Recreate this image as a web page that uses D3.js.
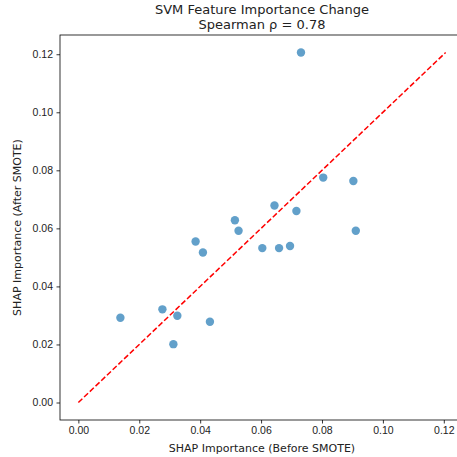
<!DOCTYPE html>
<html lang="en">
<head>
<meta charset="utf-8">
<title>SVM Feature Importance Change</title>
<script src="https://cdnjs.cloudflare.com/ajax/libs/d3/7.8.5/d3.min.js"></script>
<style>
  body { margin: 0; background: #fff; }
  svg { font-family: "DejaVu Sans", sans-serif; display: block; }
  .tick text { font-size: 10.5px; fill: #222; }
</style>
</head>
<body>
<div id="chart"></div>
<script>
// shap importance before / after SMOTE, one entry per feature
var before = [0.0731, 0.0804, 0.0903, 0.0644, 0.0716, 0.0911, 0.0514, 0.0526, 0.0385,
              0.0409, 0.0604, 0.0659, 0.0695, 0.0276, 0.0325, 0.0138, 0.0432, 0.0312];
var after  = [0.1206, 0.0775, 0.0763, 0.0679, 0.0660, 0.0592, 0.0628, 0.0592, 0.0555,
              0.0517, 0.0532, 0.0532, 0.0539, 0.0321, 0.0299, 0.0292, 0.0278, 0.0201];
var tickVals = [0.00, 0.02, 0.04, 0.06, 0.08, 0.10, 0.12];

var W = 457, H = 457;
// plot box (right edge runs past the window, like the reference)
var pLeft = 60, pTop = 35, pBottom = 420, pRight = 464;

var svg = d3.select("#chart").append("svg").attr("width", W).attr("height", H);

var maxVal = Math.max(d3.max(before), d3.max(after));
var pad = maxVal * 0.05;
var x = d3.scaleLinear().domain([0 - pad, maxVal + pad]).range([pLeft, pRight]);
var y = d3.scaleLinear().domain([0 - pad, maxVal + pad]).range([pBottom, pTop]);

// axes
svg.append("g").attr("transform", "translate(0," + pBottom + ")")
    .call(d3.axisBottom(x).tickValues(tickVals).tickFormat(d3.format(".2f")).tickSizeOuter(0).tickSize(3.5).tickPadding(3.5))
    .call(function(g) { g.select(".domain").remove(); });
svg.append("g").attr("transform", "translate(" + pLeft + ",0)")
    .call(d3.axisLeft(y).tickValues(tickVals).tickFormat(d3.format(".2f")).tickSizeOuter(0).tickSize(3.5).tickPadding(3.5))
    .call(function(g) { g.select(".domain").remove(); });
svg.selectAll(".tick line").attr("stroke", "#000").attr("stroke-width", 0.8);

// spines
svg.append("rect").attr("x", pLeft).attr("y", pTop)
    .attr("width", pRight - pLeft).attr("height", pBottom - pTop)
    .attr("fill", "none").attr("stroke", "#000").attr("stroke-width", 0.8);

// diagonal reference line
svg.append("line")
    .attr("x1", x(0)).attr("y1", y(0)).attr("x2", x(maxVal)).attr("y2", y(maxVal))
    .attr("stroke", "red").attr("stroke-width", 1.5).attr("stroke-dasharray", "5.5,2.4");

// points
svg.selectAll("circle.pt").data(before).enter().append("circle")
    .attr("class", "pt")
    .attr("cx", function(d) { return x(d); })
    .attr("cy", function(d, i) { return y(after[i]); })
    .attr("r", 4.2)
    .attr("fill", "#1f77b4").attr("fill-opacity", 0.7);

// titles
svg.append("text").attr("x", 262).attr("y", 14).attr("text-anchor", "middle")
    .attr("font-size", "13px").attr("fill", "#222").text("SVM Feature Importance Change");
svg.append("text").attr("x", 262).attr("y", 29).attr("text-anchor", "middle")
    .attr("font-size", "13px").attr("fill", "#222").text("Spearman ρ = 0.78");

svg.append("text").attr("x", 262).attr("y", 452).attr("text-anchor", "middle")
    .attr("font-size", "11px").attr("fill", "#222").text("SHAP Importance (Before SMOTE)");
svg.append("text").attr("transform", "translate(21," + ((pTop + pBottom) / 2) + ") rotate(-90)")
    .attr("text-anchor", "middle")
    .attr("font-size", "11px").attr("fill", "#222").text("SHAP Importance (After SMOTE)");
</script>
</body>
</html>
